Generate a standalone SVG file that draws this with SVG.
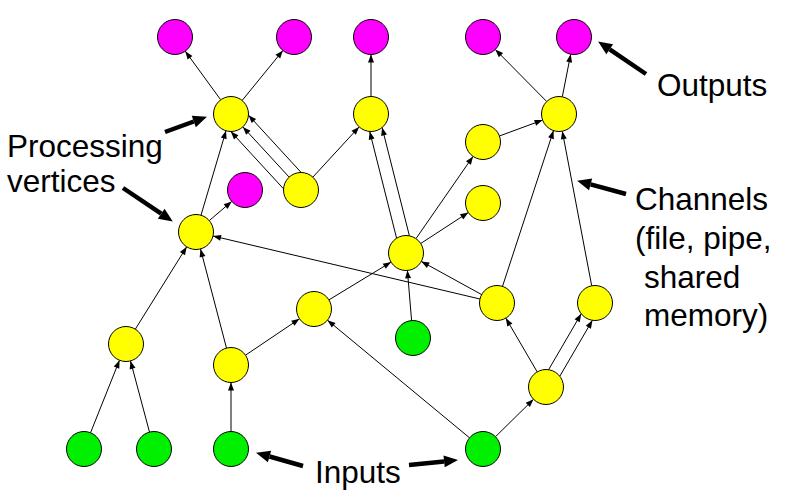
<svg xmlns="http://www.w3.org/2000/svg" width="788" height="497" viewBox="0 0 788 497">
<style>
.n{stroke:#000;stroke-width:1}
.out{fill:#FF00FF}
.proc{fill:#FFFF00}
.in{fill:#00F000}
.e{stroke:#000;stroke-width:1;fill:none;marker-end:url(#ah)}
.t{stroke:#000;stroke-width:4.5;fill:none;marker-end:url(#bh)}
.lbl{font-family:"Liberation Sans",Arial,sans-serif;font-size:31.5px;fill:#000}
</style>
<defs>
<marker id="ah" markerUnits="userSpaceOnUse" markerWidth="8" markerHeight="6" refX="8" refY="3" orient="auto" overflow="visible">
<path d="M0,0 L8,3 L0,6 z" fill="#000"/>
</marker>
<marker id="bh" markerUnits="userSpaceOnUse" markerWidth="14" markerHeight="12" refX="0" refY="6" orient="auto" overflow="visible">
<path d="M0,0 L14,6 L0,12 z" fill="#000"/>
</marker>
</defs>
<rect width="788" height="497" fill="#fff"/>
<g id="connectors">
<line class="e" x1="220.7" y1="99.8" x2="185.3" y2="51.2"/>
<line class="e" x1="242.1" y1="100.5" x2="282.9" y2="50.5"/>
<line class="e" x1="371" y1="96.5" x2="371" y2="54.5"/>
<line class="e" x1="546.7" y1="101.5" x2="495.3" y2="49.5"/>
<line class="e" x1="562.3" y1="96.8" x2="570.7" y2="54.2"/>
<line class="e" x1="289.1" y1="177.1" x2="242.9" y2="126.9"/>
<line class="e" x1="301.2" y1="172.5" x2="248.5" y2="115.2"/>
<line class="e" x1="283.5" y1="188.8" x2="230.8" y2="131.5"/>
<line class="e" x1="312.9" y1="177.1" x2="359.1" y2="126.9"/>
<line class="e" x1="201" y1="215.2" x2="226" y2="130.8"/>
<line class="e" x1="209.3" y1="220.6" x2="231.7" y2="201.4"/>
<line class="e" x1="396.6" y1="238.2" x2="369.7" y2="131.5"/>
<line class="e" x1="409.4" y1="235.8" x2="382.1" y2="127.5"/>
<line class="e" x1="416" y1="238.6" x2="473" y2="156.4"/>
<line class="e" x1="420.7" y1="243.5" x2="468.3" y2="212.5"/>
<line class="e" x1="499.4" y1="136" x2="542.6" y2="120.1"/>
<line class="e" x1="502.5" y1="286.4" x2="553.5" y2="130.6"/>
<line class="e" x1="591.7" y1="285.8" x2="562.3" y2="131.2"/>
<line class="e" x1="480" y1="299" x2="213" y2="236"/>
<line class="e" x1="481.7" y1="294.6" x2="421.3" y2="261.4"/>
<line class="e" x1="328.9" y1="299.9" x2="391.1" y2="262.1"/>
<line class="e" x1="411.6" y1="320.6" x2="407.4" y2="270.4"/>
<line class="e" x1="135.3" y1="329.2" x2="186.7" y2="246.8"/>
<line class="e" x1="226.5" y1="348.1" x2="200.5" y2="248.9"/>
<line class="e" x1="245.5" y1="355.2" x2="299.5" y2="318.8"/>
<line class="e" x1="90.5" y1="432.8" x2="119.5" y2="360.2"/>
<line class="e" x1="149.5" y1="432.1" x2="130.5" y2="360.9"/>
<line class="e" x1="231" y1="431.5" x2="231" y2="382.5"/>
<line class="e" x1="469.5" y1="437.8" x2="327.5" y2="320.2"/>
<line class="e" x1="495.5" y1="436.7" x2="533.5" y2="399.3"/>
<line class="e" x1="537.2" y1="371.9" x2="505.8" y2="318.1"/>
<line class="e" x1="548.6" y1="369.7" x2="581.2" y2="313.8"/>
<line class="e" x1="559.8" y1="376.2" x2="592.4" y2="320.3"/>
</g>
<g id="out1"><circle class="n out" cx="175" cy="37" r="17.5"/></g>
<g id="out2"><circle class="n out" cx="294" cy="37" r="17.5"/></g>
<g id="out3"><circle class="n out" cx="371" cy="37" r="17.5"/></g>
<g id="out4"><circle class="n out" cx="483" cy="37" r="17.5"/></g>
<g id="out5"><circle class="n out" cx="574" cy="37" r="17.5"/></g>
<g id="out6"><circle class="n out" cx="245" cy="190" r="17.5"/></g>
<g id="vA"><circle class="n proc" cx="231" cy="114" r="17.5"/></g>
<g id="vB"><circle class="n proc" cx="371" cy="114" r="17.5"/></g>
<g id="vC"><circle class="n proc" cx="301" cy="190" r="17.5"/></g>
<g id="vD"><circle class="n proc" cx="559" cy="114" r="17.5"/></g>
<g id="vE"><circle class="n proc" cx="483" cy="142" r="17.5"/></g>
<g id="vF"><circle class="n proc" cx="483" cy="203" r="17.5"/></g>
<g id="vG"><circle class="n proc" cx="196" cy="232" r="17.5"/></g>
<g id="vH"><circle class="n proc" cx="126" cy="344" r="17.5"/></g>
<g id="vI"><circle class="n proc" cx="231" cy="365" r="17.5"/></g>
<g id="vJ"><circle class="n proc" cx="314" cy="309" r="17.5"/></g>
<g id="vK"><circle class="n proc" cx="406" cy="253" r="17.5"/></g>
<g id="vM"><circle class="n proc" cx="497" cy="303" r="17.5"/></g>
<g id="vN"><circle class="n proc" cx="595" cy="303" r="17.5"/></g>
<g id="vO"><circle class="n proc" cx="546" cy="387" r="17.5"/></g>
<g id="in1"><circle class="n in" cx="84" cy="449" r="17.5"/></g>
<g id="in2"><circle class="n in" cx="154" cy="449" r="17.5"/></g>
<g id="in3"><circle class="n in" cx="231" cy="449" r="17.5"/></g>
<g id="in4"><circle class="n in" cx="413" cy="338" r="17.5"/></g>
<g id="in5"><circle class="n in" cx="483" cy="449" r="17.5"/></g>
<g id="label-outputs">
<line class="t" x1="646" y1="74" x2="609.7" y2="49.3"/>
<text class="lbl" x="657" y="96">Outputs</text>
</g>
<g id="label-channels">
<line class="t" x1="626" y1="194" x2="590.6" y2="184.4"/>
<text class="lbl" x="635" y="210">Channels</text>
<text class="lbl" x="635" y="249">(file, pipe,</text>
<text class="lbl" x="644" y="288">shared</text>
<text class="lbl" x="644" y="326">memory)</text>
</g>
<g id="label-processing">
<line class="t" x1="165" y1="132" x2="193.8" y2="121.5"/>
<line class="t" x1="123" y1="188" x2="161.2" y2="213.7"/>
<text class="lbl" x="7" y="157">Processing</text>
<text class="lbl" x="7" y="192">vertices</text>
</g>
<g id="label-inputs">
<line class="t" x1="303" y1="466" x2="269.5" y2="456.5"/>
<line class="t" x1="409" y1="465" x2="444.1" y2="461.4"/>
<text class="lbl" x="315" y="483">Inputs</text>
</g>
</svg>
